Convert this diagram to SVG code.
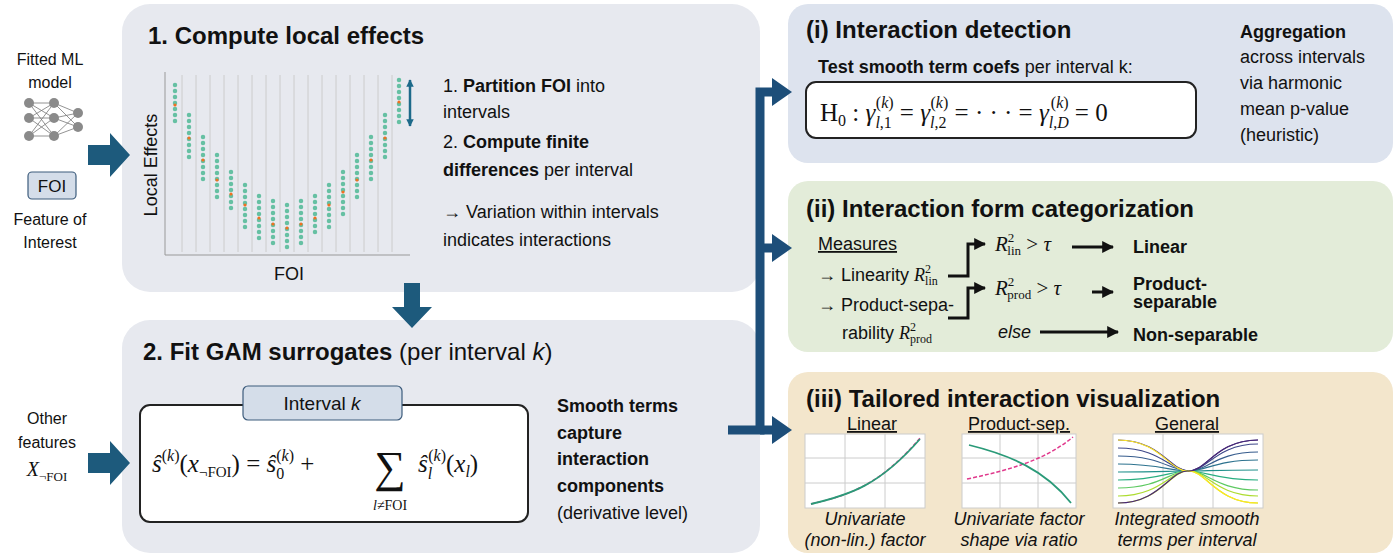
<svg xmlns="http://www.w3.org/2000/svg" width="1400" height="558" viewBox="0 0 1400 558">
<defs>
<style>
text{font-family:"Liberation Sans",Arial,sans-serif;fill:#111}
.t{font-size:24px;font-weight:bold}
.b{font-size:18px}
.bb{font-weight:bold}
.m{font-family:"Liberation Serif","Times New Roman",serif;font-style:italic}
.mr{font-family:"Liberation Serif","Times New Roman",serif}
.u{text-decoration:underline}
.i{font-style:italic}
.big{fill:#1d5a7c}
.con{fill:none;stroke:#1d4e79;stroke-width:9}
.thin{fill:none;stroke:#111;stroke-width:3}
.grid{stroke:#ccc;stroke-width:1}
.dots{stroke:#3cb38a;stroke-width:4.5;stroke-linecap:round;stroke-dasharray:0 6;opacity:.75}
.pl{fill:#fff;stroke:#ccc}
</style>
<marker id="ah" viewBox="0 0 10 10" refX="9" refY="5" markerWidth="4" markerHeight="4" orient="auto"><path d="M0,0L10,5L0,10z" fill="#111"/></marker>
<marker id="ad" viewBox="0 0 10 10" refX="9" refY="5" markerWidth="3" markerHeight="3" orient="auto-start-reverse"><path d="M0,0L10,5L0,10z" fill="#1d6a8a"/></marker>
</defs>

<g id="box1">
<rect x="122" y="4" width="638" height="288" rx="28" fill="#e7e9ef"/>
<text class="t" x="148" y="44">1. Compute local effects</text>
<g id="plot1">
<line x1="165" y1="72" x2="165" y2="255" stroke="#999"/>
<line x1="165" y1="255" x2="410" y2="255" stroke="#999"/>
<g class="grid">
<line x1="182" y1="75" x2="182" y2="252"/><line x1="196" y1="75" x2="196" y2="252"/><line x1="210" y1="75" x2="210" y2="252"/><line x1="224" y1="75" x2="224" y2="252"/><line x1="238" y1="75" x2="238" y2="252"/><line x1="252" y1="75" x2="252" y2="252"/><line x1="266" y1="75" x2="266" y2="252"/><line x1="280" y1="75" x2="280" y2="252"/><line x1="294" y1="75" x2="294" y2="252"/><line x1="308" y1="75" x2="308" y2="252"/><line x1="322" y1="75" x2="322" y2="252"/><line x1="336" y1="75" x2="336" y2="252"/><line x1="350" y1="75" x2="350" y2="252"/><line x1="364" y1="75" x2="364" y2="252"/><line x1="378" y1="75" x2="378" y2="252"/><line x1="392" y1="75" x2="392" y2="252"/>
</g>
<g class="dots">
<line x1="175" y1="85" x2="175" y2="125"/><line x1="189" y1="115" x2="189" y2="160"/><line x1="203" y1="137" x2="203" y2="183"/><line x1="217" y1="155" x2="217" y2="200"/><line x1="231" y1="172" x2="231" y2="212"/><line x1="245" y1="185" x2="245" y2="230"/><line x1="259" y1="196" x2="259" y2="240"/><line x1="273" y1="201" x2="273" y2="247"/><line x1="287" y1="205" x2="287" y2="248"/><line x1="301" y1="201" x2="301" y2="245"/><line x1="315" y1="196" x2="315" y2="238"/><line x1="329" y1="185" x2="329" y2="230"/><line x1="343" y1="172" x2="343" y2="218"/><line x1="357" y1="155" x2="357" y2="200"/><line x1="371" y1="137" x2="371" y2="180"/><line x1="385" y1="115" x2="385" y2="160"/><line x1="399" y1="80" x2="399" y2="127"/>
</g>
<g fill="#f07020">
<circle cx="175" cy="105" r="1.6"/><circle cx="189" cy="138" r="1.6"/><circle cx="203" cy="160" r="1.6"/><circle cx="217" cy="180" r="1.6"/><circle cx="231" cy="194" r="1.6"/><circle cx="245" cy="205" r="1.6"/><circle cx="259" cy="218" r="1.6"/><circle cx="273" cy="224" r="1.6"/><circle cx="287" cy="228" r="1.6"/><circle cx="301" cy="224" r="1.6"/><circle cx="315" cy="218" r="1.6"/><circle cx="329" cy="205" r="1.6"/><circle cx="343" cy="192" r="1.6"/><circle cx="357" cy="180" r="1.6"/><circle cx="371" cy="160" r="1.6"/><circle cx="385" cy="138" r="1.6"/><circle cx="399" cy="102" r="1.6"/>
</g>
<line x1="410" y1="80" x2="410" y2="126" stroke="#1d6a8a" stroke-width="2.5" marker-start="url(#ad)" marker-end="url(#ad)"/>
<text x="157" y="165" font-size="18" text-anchor="middle" transform="rotate(-90 157 165)">Local Effects</text>
<text x="289" y="280" font-size="18" text-anchor="middle">FOI</text>
</g>
<text class="b" x="443" y="92">1. <tspan class="bb">Partition FOI</tspan> into</text>
<text class="b" x="443" y="118">intervals</text>
<text class="b" x="443" y="148">2. <tspan class="bb">Compute finite</tspan></text>
<text class="b" x="443" y="176"><tspan class="bb">differences</tspan> per interval</text>
<text class="b" x="443" y="218">→ Variation within intervals</text>
<text class="b" x="443" y="246">indicates interactions</text>
</g>

<g id="inputs1">
<text x="50" y="65" text-anchor="middle" font-size="16">Fitted ML</text>
<text x="50" y="88" text-anchor="middle" font-size="16">model</text>
<g stroke="#777" stroke-width="0.8">
<line x1="29" y1="103" x2="54" y2="103"/><line x1="29" y1="103" x2="54" y2="118"/><line x1="29" y1="118" x2="54" y2="103"/><line x1="29" y1="118" x2="54" y2="136"/><line x1="29" y1="136" x2="54" y2="118"/><line x1="29" y1="136" x2="54" y2="136"/><line x1="29" y1="118" x2="54" y2="118"/><line x1="29" y1="103" x2="54" y2="136"/><line x1="29" y1="136" x2="54" y2="103"/>
<line x1="54" y1="103" x2="78" y2="113"/><line x1="54" y1="103" x2="78" y2="127"/><line x1="54" y1="118" x2="78" y2="113"/><line x1="54" y1="118" x2="78" y2="127"/><line x1="54" y1="136" x2="78" y2="113"/><line x1="54" y1="136" x2="78" y2="127"/>
</g>
<g fill="#8a8a8a"><circle cx="29" cy="103" r="5"/><circle cx="29" cy="118" r="5"/><circle cx="29" cy="136" r="5"/><circle cx="54" cy="103" r="5"/><circle cx="54" cy="118" r="5"/><circle cx="54" cy="136" r="5"/><circle cx="78" cy="113" r="5"/><circle cx="78" cy="127" r="5"/></g>
<rect x="28" y="172" width="48" height="27" rx="4" fill="#d4dde9" stroke="#3d5c7c" stroke-width="1.2"/>
<text x="52" y="192" text-anchor="middle" font-size="17">FOI</text>
<text x="50" y="225" text-anchor="middle" font-size="16">Feature of</text>
<text x="50" y="248" text-anchor="middle" font-size="16">Interest</text>
</g>

<g id="box2">
<rect x="122" y="320" width="638" height="233" rx="28" fill="#e7e9ef"/>
<text class="t" x="143" y="360">2. Fit GAM surrogates <tspan font-weight="normal">(per interval </tspan><tspan font-weight="normal" font-style="italic">k</tspan><tspan font-weight="normal">)</tspan></text>
<rect x="140" y="405" width="388" height="117" rx="10" fill="#fff" stroke="#222" stroke-width="2"/>
<rect x="243" y="386" width="159" height="34" rx="5" fill="#d4dde9" stroke="#3d5c7c" stroke-width="1.2"/>
<text x="322" y="410" text-anchor="middle" font-size="19">Interval <tspan font-style="italic">k</tspan></text>
<text class="m" x="152" y="472" font-size="25">ŝ<tspan font-size="16" dy="-11" font-style="normal">(</tspan><tspan font-size="16">k</tspan><tspan font-size="16" font-style="normal">)</tspan><tspan dy="11" font-style="normal">(</tspan>x<tspan font-size="15" dy="5" font-style="normal">¬FOI</tspan><tspan dy="-5" font-style="normal">) = </tspan>ŝ<tspan font-size="16" dy="7" font-style="normal">0</tspan><tspan font-size="16" dx="-8" dy="-18" font-style="normal">(</tspan><tspan font-size="16">k</tspan><tspan font-size="16" font-style="normal">)</tspan><tspan dy="11" font-style="normal"> +</tspan></text>
<text class="mr" x="390" y="482" font-size="44" text-anchor="middle">∑</text>
<text class="m" x="390" y="510" font-size="14" text-anchor="middle">l≠<tspan font-style="normal">FOI</tspan></text>
<text class="m" x="418" y="472" font-size="25">ŝ<tspan font-size="16" dy="7">l</tspan><tspan font-size="16" dx="-4" dy="-18" font-style="normal">(</tspan><tspan font-size="16">k</tspan><tspan font-size="16" font-style="normal">)</tspan><tspan dy="11" font-style="normal">(</tspan>x<tspan font-size="16" dy="5">l</tspan><tspan dy="-5" font-style="normal">)</tspan></text>
<text class="b bb" x="557" y="412">Smooth terms</text>
<text class="b bb" x="557" y="439">capture</text>
<text class="b bb" x="557" y="465">interaction</text>
<text class="b bb" x="557" y="492">components</text>
<text class="b" x="557" y="519" font-size="17">(derivative level)</text>
</g>

<g id="inputs2">
<text x="47" y="424" text-anchor="middle" font-size="16">Other</text>
<text x="47" y="448" text-anchor="middle" font-size="16">features</text>
<text class="m" x="47" y="476" text-anchor="middle" font-size="20">X<tspan font-size="13" dy="5" font-style="normal">¬FOI</tspan></text>
</g>

<g id="boxi">
<rect x="788" y="4" width="605" height="159" rx="20" fill="#dde3ee"/>
<text class="t" x="806" y="38">(i) Interaction detection</text>
<text class="b" x="818" y="73"><tspan class="bb">Test smooth term coefs</tspan> per interval k:</text>
<rect x="806" y="82" width="390" height="56" rx="10" fill="#fff" stroke="#222" stroke-width="2"/>
<text class="m" x="820" y="121" font-size="25"><tspan font-style="normal">H</tspan><tspan font-size="16" dy="5" font-style="normal">0</tspan><tspan dy="-5" font-style="normal"> : </tspan>γ<tspan font-size="16" dy="7">l</tspan><tspan font-size="16" font-style="normal">,1</tspan><tspan font-size="16" dx="-16" dy="-20" font-style="normal">(</tspan><tspan font-size="16">k</tspan><tspan font-size="16" font-style="normal">)</tspan><tspan dy="13" font-style="normal"> = </tspan>γ<tspan font-size="16" dy="7">l</tspan><tspan font-size="16" font-style="normal">,2</tspan><tspan font-size="16" dx="-16" dy="-20" font-style="normal">(</tspan><tspan font-size="16">k</tspan><tspan font-size="16" font-style="normal">)</tspan><tspan dy="13" font-style="normal"> = · · · = </tspan>γ<tspan font-size="16" dy="7">l</tspan><tspan font-size="16" font-style="normal">,</tspan><tspan font-size="16">D</tspan><tspan font-size="16" dx="-18" dy="-20" font-style="normal">(</tspan><tspan font-size="16">k</tspan><tspan font-size="16" font-style="normal">)</tspan><tspan dy="13" font-style="normal"> = 0</tspan></text>
<text class="b bb" x="1240" y="38">Aggregation</text>
<text class="b" x="1240" y="63">across intervals</text>
<text class="b" x="1240" y="89">via harmonic</text>
<text class="b" x="1240" y="115">mean p-value</text>
<text class="b" x="1240" y="141">(heuristic)</text>
</g>

<g id="boxii">
<rect x="788" y="181" width="605" height="171" rx="20" fill="#e3ecd9"/>
<text class="t" x="806" y="217">(ii) Interaction form categorization</text>
<text class="b u" x="818" y="250">Measures</text>
<text class="b" x="818" y="281">→ Linearity <tspan class="m">R</tspan><tspan font-size="12" dy="-8" class="mr">2</tspan><tspan font-size="12" dx="-6" dy="12" class="mr">lin</tspan></text>
<text class="b" x="818" y="311">→ Product-sepa-</text>
<text class="b" x="842" y="339">rability <tspan class="m">R</tspan><tspan font-size="12" dy="-8" class="mr">2</tspan><tspan font-size="12" dx="-6" dy="12" class="mr">prod</tspan></text>
<text class="m" x="995" y="251" font-size="21">R<tspan font-size="13" dy="-9" font-style="normal">2</tspan><tspan font-size="13" dx="-7" dy="13" font-style="normal">lin</tspan><tspan dy="-4" font-style="normal"> &gt; </tspan>τ</text>
<text class="m" x="995" y="295" font-size="21">R<tspan font-size="13" dy="-9" font-style="normal">2</tspan><tspan font-size="13" dx="-7" dy="13" font-style="normal">prod</tspan><tspan dy="-4" font-style="normal"> &gt; </tspan>τ</text>
<text class="b i" x="998" y="338">else</text>
<text class="b bb" x="1133" y="253">Linear</text>
<text class="b bb" x="1133" y="290">Product-</text>
<text class="b bb" x="1133" y="308">separable</text>
<text class="b bb" x="1133" y="341">Non-separable</text>
</g>

<g id="boxiii">
<rect x="788" y="372" width="605" height="181" rx="20" fill="#f3e6cc"/>
<text class="t" x="806" y="407">(iii) Tailored interaction visualization</text>
<text class="b u" x="872" y="430" text-anchor="middle">Linear</text>
<text class="b u" x="1019" y="430" text-anchor="middle">Product-sep.</text>
<text class="b u" x="1187" y="430" text-anchor="middle">General</text>
<rect class="pl" x="805" y="434" width="120" height="74"/>
<rect class="pl" x="962" y="434" width="114" height="74"/>
<rect class="pl" x="1113" y="434" width="150" height="74"/>
<g class="grid"><line x1="845" y1="434" x2="845" y2="508"/><line x1="885" y1="434" x2="885" y2="508"/><line x1="805" y1="458" x2="925" y2="458"/><line x1="805" y1="483" x2="925" y2="483"/>
<line x1="1000" y1="434" x2="1000" y2="508"/><line x1="1038" y1="434" x2="1038" y2="508"/><line x1="962" y1="458" x2="1076" y2="458"/><line x1="962" y1="483" x2="1076" y2="483"/>
<line x1="1163" y1="434" x2="1163" y2="508"/><line x1="1213" y1="434" x2="1213" y2="508"/></g>
<path d="M811,504 C850,495 880,485 921,437" fill="none" stroke="#e0388c" stroke-width="1.5" stroke-dasharray="4 2"/>
<path d="M811,504 C850,495 880,485 920,439" fill="none" stroke="#2a9a78" stroke-width="1.8"/>
<path d="M967,479 C1010,470 1045,460 1073,437" fill="none" stroke="#e0388c" stroke-width="1.5" stroke-dasharray="4 2"/>
<path d="M969,445 C1010,455 1045,470 1071,503" fill="none" stroke="#2a9a78" stroke-width="1.8"/>
<g fill="none" stroke-width="1.2">
<path d="M1118,440 C1160,440 1170,470 1188,471 C1206,472 1216,440 1258,440" stroke="#46327e"/>
<path d="M1118,448 C1160,448 1170,470 1188,471 C1206,472 1216,444 1258,444" stroke="#3f4889"/>
<path d="M1118,456 C1160,456 1170,470 1188,471 C1206,472 1216,452 1258,452" stroke="#365c8d"/>
<path d="M1118,464 C1160,464 1170,471 1188,471 C1206,471 1216,460 1258,460" stroke="#2c728e"/>
<path d="M1118,472 C1160,472 1170,471 1188,471 C1206,471 1216,470 1258,470" stroke="#21918c"/>
<path d="M1118,480 C1160,480 1170,471 1188,471 C1206,471 1216,480 1258,480" stroke="#28ae80"/>
<path d="M1118,488 C1160,488 1170,471 1188,471 C1206,470 1216,490 1258,490" stroke="#5ec962"/>
<path d="M1118,496 C1160,496 1170,471 1188,471 C1206,470 1216,496 1258,496" stroke="#addc30"/>
<path d="M1118,503 C1160,503 1170,471 1188,471 C1206,470 1216,503 1258,503" stroke="#c8e020"/>
<path d="M1118,440 C1160,440 1170,472 1188,471 C1206,470 1216,503 1258,503" stroke="#fde725"/>
<path d="M1118,503 C1160,503 1170,470 1188,471 C1206,472 1216,440 1258,440" stroke="#482878"/>
</g>
<text class="b i" x="865" y="525" text-anchor="middle" font-size="17">Univariate</text>
<text class="b i" x="865" y="546" text-anchor="middle" font-size="17">(non-lin.) factor</text>
<text class="b i" x="1019" y="525" text-anchor="middle" font-size="17">Univariate factor</text>
<text class="b i" x="1019" y="546" text-anchor="middle" font-size="17">shape via ratio</text>
<text class="b i" x="1187" y="525" text-anchor="middle" font-size="17">Integrated smooth</text>
<text class="b i" x="1187" y="546" text-anchor="middle" font-size="17">terms per interval</text>
</g>

<g id="connectors">
<path class="big" d="M88,145 H110 V133 L130,155 L110,177 V165 H88z"/>
<path class="big" d="M88,453 H110 V441 L130,463 L110,485 V473 H88z"/>
<path class="big" d="M404,283 H420 V307 H432 L412,328 L392,307 H404z"/>
<path d="M728,430 H760 V92 H774" class="con"/>
<path d="M760,248 H774" class="con"/>
<path d="M760,430 H774" class="con"/>
<path d="M772,78 L792,92 L772,106z" fill="#1d4e79"/>
<path d="M772,234 L792,248 L772,262z" fill="#1d4e79"/>
<path d="M772,416 L792,430 L772,444z" fill="#1d4e79"/>
<path class="thin" d="M948,276 H968 V244 H985" marker-end="url(#ah)"/>
<path class="thin" d="M948,318 H968 V288 H985" marker-end="url(#ah)"/>
<line class="thin" x1="1072" y1="247" x2="1113" y2="247" marker-end="url(#ah)"/>
<line class="thin" x1="1092" y1="292" x2="1113" y2="292" marker-end="url(#ah)"/>
<line class="thin" x1="1040" y1="332" x2="1118" y2="332" marker-end="url(#ah)"/>
</g>
</svg>
